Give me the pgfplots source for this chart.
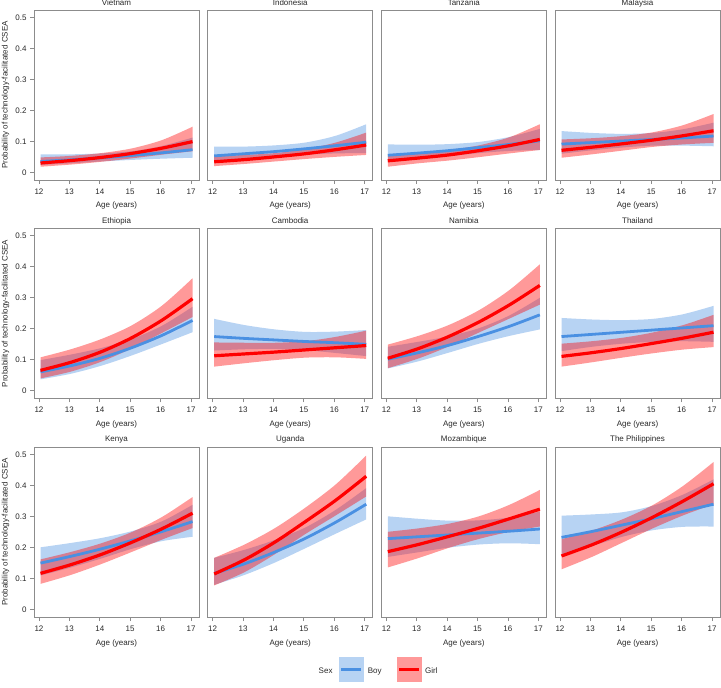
\documentclass[border=0pt]{standalone}
\usepackage{fontspec}
\setmainfont{Liberation Sans}
\usepackage{pgfplots}
\usepackage{pgfplotstable}
\pgfplotsset{compat=1.18}
\usepgfplotslibrary{fillbetween}
\definecolor{boyc}{RGB}{74,144,226}
\definecolor{girlc}{RGB}{255,0,0}
\definecolor{framegray}{RGB}{140,140,140}
\definecolor{txt}{RGB}{40,40,40}
\newcommand{\ff}{\fontsize{8}{9.6}\selectfont}

\pgfplotstableread{
x bm bl bu gm gl gu
12.05 0.035 0.024 0.058 0.030 0.018 0.048
13.05 0.0405 0.029 0.058 0.038 0.025 0.053
14.05 0.047 0.035 0.061 0.048 0.034 0.062
15.05 0.0544 0.040 0.068 0.061 0.045 0.077
16.05 0.063 0.044 0.085 0.078 0.057 0.104
17.05 0.073 0.047 0.112 0.099 0.068 0.147
}\tVN
\pgfplotstableread{
x bm bl bu gm gl gu
12.05 0.053 0.032 0.083 0.034 0.020 0.052
13.05 0.060 0.041 0.083 0.041 0.027 0.056
14.05 0.067 0.049 0.087 0.050 0.035 0.062
15.05 0.076 0.057 0.096 0.060 0.043 0.075
16.05 0.086 0.061 0.118 0.073 0.050 0.096
17.05 0.097 0.062 0.155 0.088 0.056 0.128
}\tID
\pgfplotstableread{
x bm bl bu gm gl gu
12.05 0.055 0.033 0.090 0.037 0.018 0.058
13.05 0.062 0.042 0.089 0.046 0.029 0.064
14.05 0.070 0.052 0.091 0.056 0.038 0.072
15.05 0.080 0.062 0.098 0.070 0.049 0.087
16.05 0.090 0.069 0.114 0.086 0.061 0.113
17.05 0.102 0.072 0.140 0.106 0.072 0.155
}\tTZ
\pgfplotstableread{
x bm bl bu gm gl gu
12.05 0.091 0.060 0.133 0.071 0.047 0.106
13.05 0.096 0.071 0.127 0.081 0.058 0.110
14.05 0.101 0.080 0.124 0.092 0.070 0.117
15.05 0.106 0.086 0.127 0.104 0.082 0.129
16.05 0.111 0.086 0.139 0.118 0.090 0.152
17.05 0.117 0.084 0.160 0.134 0.095 0.188
}\tMY
\pgfplotstableread{
x bm bl bu gm gl gu
12.05 0.061 0.037 0.099 0.066 0.040 0.108
13.05 0.081 0.055 0.117 0.092 0.062 0.134
14.05 0.106 0.081 0.138 0.126 0.094 0.167
15.05 0.139 0.114 0.167 0.171 0.137 0.211
16.05 0.179 0.151 0.210 0.228 0.187 0.275
17.05 0.227 0.189 0.271 0.297 0.238 0.363
}\tET
\pgfplotstableread{
x bm bl bu gm gl gu
12.05 0.175 0.130 0.232 0.113 0.078 0.156
13.05 0.169 0.134 0.212 0.119 0.089 0.155
14.05 0.164 0.135 0.198 0.125 0.099 0.155
15.05 0.159 0.131 0.190 0.132 0.107 0.160
16.05 0.155 0.122 0.191 0.139 0.108 0.174
17.05 0.150 0.112 0.196 0.146 0.103 0.194
}\tKH
\pgfplotstableread{
x bm bl bu gm gl gu
12.05 0.102 0.072 0.142 0.105 0.073 0.149
13.05 0.123 0.095 0.158 0.136 0.104 0.177
14.05 0.147 0.123 0.176 0.175 0.143 0.212
15.05 0.176 0.152 0.202 0.222 0.188 0.260
16.05 0.208 0.177 0.243 0.277 0.233 0.325
17.05 0.245 0.198 0.300 0.340 0.278 0.408
}\tNA
\pgfplotstableread{
x bm bl bu gm gl gu
12.05 0.175 0.128 0.235 0.111 0.078 0.152
13.05 0.182 0.142 0.230 0.123 0.092 0.160
14.05 0.189 0.152 0.228 0.137 0.107 0.171
15.05 0.196 0.158 0.232 0.153 0.121 0.188
16.05 0.203 0.160 0.247 0.170 0.133 0.212
17.05 0.210 0.158 0.274 0.189 0.141 0.245
}\tTH
\pgfplotstableread{
x bm bl bu gm gl gu
12.05 0.149 0.109 0.200 0.116 0.082 0.161
13.05 0.171 0.135 0.214 0.144 0.111 0.185
14.05 0.195 0.164 0.230 0.177 0.146 0.213
15.05 0.222 0.195 0.252 0.216 0.185 0.249
16.05 0.251 0.220 0.284 0.260 0.225 0.298
17.05 0.283 0.234 0.337 0.310 0.262 0.362
}\tKE
\pgfplotstableread{
x bm bl bu gm gl gu
12.05 0.116 0.079 0.166 0.114 0.077 0.166
13.05 0.147 0.111 0.192 0.160 0.120 0.209
14.05 0.185 0.151 0.224 0.217 0.178 0.262
15.05 0.229 0.197 0.264 0.283 0.243 0.328
16.05 0.281 0.244 0.321 0.352 0.303 0.403
17.05 0.339 0.290 0.391 0.429 0.364 0.496
}\tUG
\pgfplotstableread{
x bm bl bu gm gl gu
12.05 0.228 0.169 0.300 0.186 0.135 0.250
13.05 0.234 0.184 0.292 0.209 0.165 0.261
14.05 0.240 0.199 0.286 0.235 0.198 0.276
15.05 0.246 0.209 0.287 0.262 0.227 0.300
16.05 0.252 0.213 0.296 0.292 0.250 0.337
17.05 0.259 0.210 0.315 0.323 0.267 0.385
}\tMZ
\pgfplotstableread{
x bm bl bu gm gl gu
12.05 0.232 0.174 0.302 0.172 0.129 0.226
13.05 0.251 0.204 0.306 0.208 0.169 0.254
14.05 0.272 0.234 0.313 0.250 0.215 0.290
15.05 0.293 0.255 0.334 0.297 0.261 0.336
16.05 0.316 0.266 0.370 0.349 0.303 0.398
17.05 0.339 0.267 0.419 0.405 0.339 0.475
}\tPH

\newcommand{\panelplots}[2]{%
  \addplot[name path=#2bl, draw=none, smooth] table[x=x,y=bl]{#1};
  \addplot[name path=#2bu, draw=none, smooth] table[x=x,y=bu]{#1};
  \addplot[fill=boyc, fill opacity=0.4, draw=none] fill between[of=#2bl and #2bu];
  \addplot[boyc, line width=2.8pt, smooth] table[x=x,y=bm]{#1};
  \addplot[name path=#2gl, draw=none, smooth] table[x=x,y=gl]{#1};
  \addplot[name path=#2gu, draw=none, smooth] table[x=x,y=gu]{#1};
  \addplot[fill=girlc, fill opacity=0.4, draw=none] fill between[of=#2gl and #2gu];
  \addplot[girlc, line width=3.2pt, smooth] table[x=x,y=gm]{#1};
}

\pgfplotsset{
  every axis title shift=0pt,
  panel/.style={
    scale only axis, width=165pt, height=170pt, anchor=north west,
    xmin=11.836, xmax=17.263, ymin=-0.0248, ymax=0.5235,
    xtick={12,13,14,15,16,17}, ytick={0,0.1,0.2,0.3,0.4,0.5},
    axis line style={draw=framegray, line width=0.8pt},
    every tick/.style={draw=framegray, line width=0.8pt},
    tick align=outside, major tick length=4pt, tick pos=left,
    tick label style={font=\ff, text=txt},
    xticklabel style={yshift=-1.2pt},
    /pgf/number format/assume math mode=true,
    yticklabel style={/pgf/number format/fixed, /pgf/number format/precision=1},
    every axis title shift=0pt,
    title style={font=\ff, text=txt, at={(axis description cs:0.5,1.031)}, anchor=base},
    xlabel={Age (years)},
    xlabel style={font=\ff, text=txt, at={(axis description cs:0.5,-0.1647)}, anchor=base},
    ylabel style={font=\ff, text=txt, at={(axis description cs:-0.1606,0.5)}, anchor=base, rotate=0},
  },
  toprow/.style={title style={at={(axis description cs:0.5,1.0247)}}},
  firstcol/.style={ylabel={Probability of technology-facilitated CSEA}},
  othercol/.style={ytick=\empty},
}

\begin{document}
\begin{tikzpicture}
% row 1
\begin{axis}[panel, toprow, firstcol, at={(34pt,-10pt)}, title={Vietnam}]
\panelplots{\tVN}{a}
\end{axis}
\begin{axis}[panel, toprow, othercol, at={(207.7pt,-10pt)}, title={Indonesia}]
\panelplots{\tID}{b}
\end{axis}
\begin{axis}[panel, toprow, othercol, at={(381.3pt,-10pt)}, title={Tanzania}]
\panelplots{\tTZ}{c}
\end{axis}
\begin{axis}[panel, toprow, othercol, at={(555pt,-10pt)}, title={Malaysia}]
\panelplots{\tMY}{d}
\end{axis}
% row 2
\begin{axis}[panel, firstcol, at={(34pt,-228.5pt)}, title={Ethiopia}]
\panelplots{\tET}{e}
\end{axis}
\begin{axis}[panel, othercol, at={(207.7pt,-228.5pt)}, title={Cambodia}]
\panelplots{\tKH}{f}
\end{axis}
\begin{axis}[panel, othercol, at={(381.3pt,-228.5pt)}, title={Namibia}]
\panelplots{\tNA}{g}
\end{axis}
\begin{axis}[panel, othercol, at={(555pt,-228.5pt)}, title={Thailand}]
\panelplots{\tTH}{h}
\end{axis}
% row 3
\begin{axis}[panel, firstcol, at={(34pt,-447pt)}, title={Kenya}]
\panelplots{\tKE}{i}
\end{axis}
\begin{axis}[panel, othercol, at={(207.7pt,-447pt)}, title={Uganda}]
\panelplots{\tUG}{j}
\end{axis}
\begin{axis}[panel, othercol, at={(381.3pt,-447pt)}, title={Mozambique}]
\panelplots{\tMZ}{k}
\end{axis}
\begin{axis}[panel, othercol, at={(555pt,-447pt)}, title={The Philippines}]
\panelplots{\tPH}{l}
\end{axis}
% legend
\fill[boyc, fill opacity=0.4] (338.7pt,-656.7pt) rectangle (363.7pt,-682.3pt);
\draw[boyc, line width=2.5pt] (341pt,-669.5pt) -- (361.4pt,-669.5pt);
\fill[girlc, fill opacity=0.4] (396.7pt,-656.7pt) rectangle (421.7pt,-682.3pt);
\draw[girlc, line width=2.5pt] (399pt,-669.5pt) -- (419.4pt,-669.5pt);
\node[anchor=base east, inner sep=0pt, font=\ff, text=txt] at (332.7pt,-673pt) {Sex};
\node[anchor=base west, inner sep=0pt, font=\ff, text=txt] at (367.7pt,-673pt) {Boy};
\node[anchor=base west, inner sep=0pt, font=\ff, text=txt] at (425pt,-673pt) {Girl};
\pgfresetboundingbox
\path[use as bounding box] (0pt,0pt) rectangle (721pt,-688pt);
\end{tikzpicture}
\end{document}
